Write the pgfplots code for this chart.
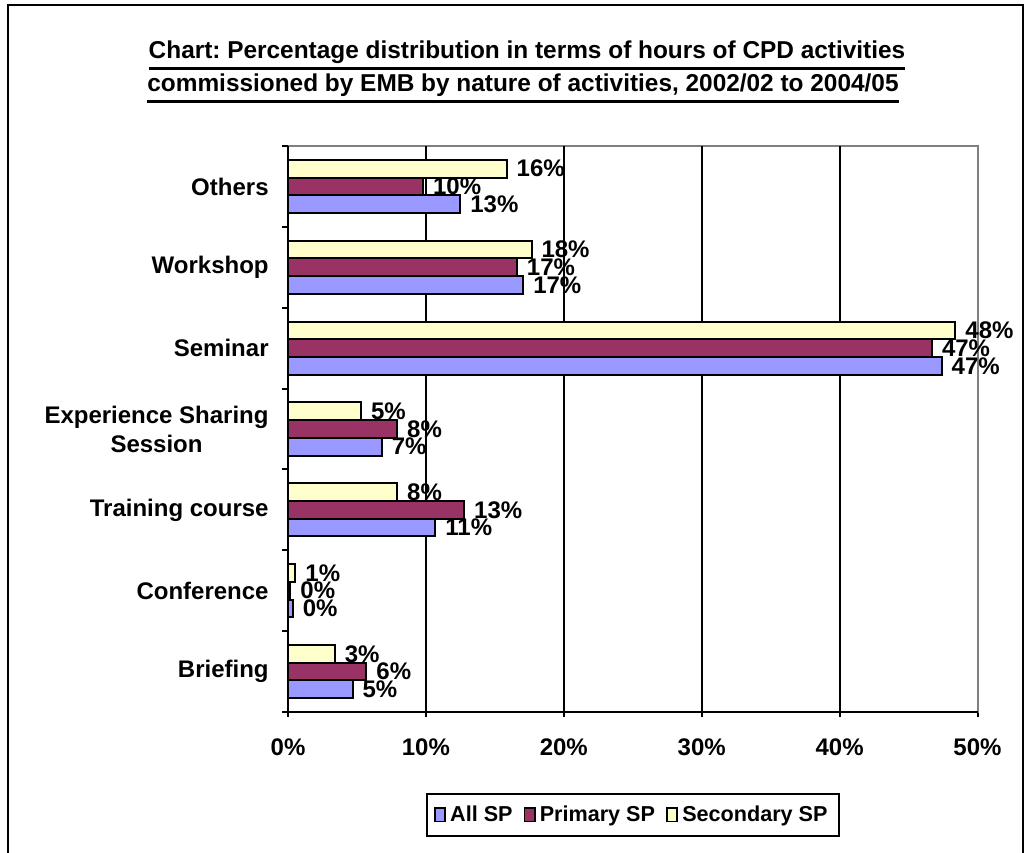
\documentclass[border=0pt]{standalone}
\usepackage{pgfplots}
\pgfplotsset{compat=1.18}
\usepackage{fontspec}
\setmainfont{Liberation Sans}
\frenchspacing
\definecolor{allsp}{HTML}{9999FF}
\definecolor{prisp}{HTML}{993366}
\definecolor{secsp}{HTML}{FFFFCC}
\definecolor{bordergray}{HTML}{808080}
\newcommand\ul[1]{\leavevmode\vtop{\hbox{#1}\kern1.6pt\hrule height 1.2pt}}
\begin{document}
\begin{tikzpicture}
\useasboundingbox (0pt,0pt) rectangle (515.5pt,426pt);
\draw[line width=1pt] (4pt,-1pt) -- (4pt,423.5pt) -- (511.5pt,423.5pt) -- (511.5pt,-1pt);
\node[anchor=base, inner sep=0pt, font=\bfseries\fontsize{12.2}{14}\selectfont] at (263.5pt,396.5pt) {\ul{Chart: Percentage distribution in terms of hours of CPD activities}};
\node[anchor=base, inner sep=0pt, font=\bfseries\fontsize{12.2}{14}\selectfont] at (261.5pt,380pt) {\ul{commissioned by EMB by nature of activities, 2002/02 to 2004/05}};
\begin{axis}[
  at={(144pt,70pt)}, anchor=south west,
  scale only axis, width=344.75pt, height=283pt,
  xbar, bar width=8.85pt,
  xmin=0, xmax=50, ymin=-0.5, ymax=6.5,
  clip=false,
  axis line style={draw=bordergray, line width=1pt},
  xtick={0,10,...,50},
  xticklabels={0\%,10\%,20\%,30\%,40\%,50\%},
  xtick pos=bottom, ytick pos=left,
  tick align=center,
  major tick length=5pt,
  tick style={black, line width=1pt},
  ytick={0,...,6},
  yticklabels={Briefing,Conference,Training course,{Experience Sharing\\Session},Seminar,Workshop,Others},
  y tick style={draw=none},
  extra y ticks={-0.5,0.5,1.5,2.5,3.5,4.5,5.5,6.5},
  extra y tick labels={},
  extra y tick style={tick align=outside, major tick length=3pt, y tick style={draw=black, line width=1pt}},
  extra x ticks={10,20,30,40},
  extra x tick labels={},
  extra x tick style={grid=major, major tick length=0pt, major grid style={black, line width=1pt}},
  tick label style={font=\bfseries\fontsize{12}{14.5}\selectfont},
  yticklabel style={align=center, anchor=east, inner sep=0pt, xshift=-7pt},
  xticklabel style={anchor=north, inner sep=0pt, yshift=-10.5pt},
  point meta=explicit symbolic,
  nodes near coords={\pgfplotspointmeta\%},
  nodes near coords style={font=\bfseries\fontsize{12}{14}\selectfont, anchor=west, inner sep=0pt, xshift=4.5pt, text=black},
  legend columns=3,
  legend style={at={(0.5,0)}, anchor=north, yshift=-40.3pt, draw=black, line width=1pt,
    font=\bfseries\fontsize{10.8}{12}\selectfont, inner xsep=3.5pt, inner ysep=4pt,
    /tikz/every odd column/.append style={column sep=0pt},
    /tikz/every even column/.append style={column sep=3.5pt}},
  legend cell align=left,
  legend image code/.code={\draw[#1, line width=0.9pt] (0pt,-3.3pt) rectangle (5.2pt,3.3pt);},
]
\addplot[fill=allsp, draw=black, line width=1pt, bar shift=-8.85pt] table[x=v, y=c, meta=l] {
c v l
0 4.68 5
1 0.35 0
2 10.69 11
3 6.8 7
4 47.4 47
5 17.06 17
6 12.5 13
};
\addplot[fill=prisp, draw=black, line width=1pt, bar shift=0pt] table[x=v, y=c, meta=l] {
c v l
0 5.69 6
1 0.18 0
2 12.78 13
3 7.92 8
4 46.7 47
5 16.6 17
6 9.8 10
};
\addplot[fill=secsp, draw=black, line width=1pt, bar shift=8.85pt] table[x=v, y=c, meta=l] {
c v l
0 3.4 3
1 0.54 1
2 7.92 8
3 5.3 5
4 48.4 48
5 17.66 18
6 15.86 16
};
\legend{All SP,Primary SP,Secondary SP}
\draw[black, line width=1pt] (rel axis cs:0,1) -- (rel axis cs:0,0) -- (rel axis cs:1,0);
\end{axis}
\end{tikzpicture}
\end{document}
